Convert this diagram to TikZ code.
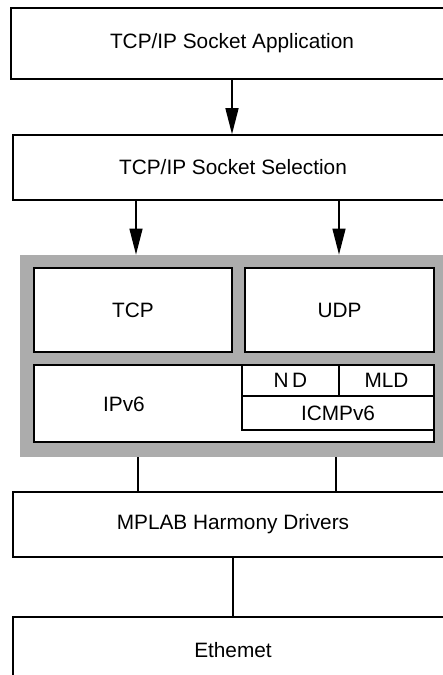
\documentclass[tikz,border=0pt]{standalone}
\usepackage{fontspec}
\setmainfont{Liberation Sans}
\usetikzlibrary{arrows.meta}
\definecolor{stackgray}{RGB}{172,172,172}

\begin{document}
\begin{tikzpicture}[x=0.5pt, y=-0.5pt, font=\fontsize{10.4}{12}\selectfont,
    layer/.style={draw, line width=0.8pt, fill=white, rectangle, inner sep=0pt},
    cell/.style={draw, line width=0.7pt, fill=white, rectangle, inner sep=0pt},
    arr/.style={-{Triangle[length=13pt, width=6.5pt]}, line width=0.7pt},
    link/.style={line width=0.7pt}]
  \clip (0,0) rectangle (443,675);
  % layers, top to bottom
  \node[layer, minimum width=221pt, minimum height=35.5pt] (app) at (232,43.5) {TCP/IP Socket Application};
  \node[layer, minimum width=220pt, minimum height=32.5pt] (sel) at (233,167.5) {TCP/IP Socket Selection};
  % grey block holding the transport and network layers
  \node[rectangle, fill=stackgray, minimum width=220pt, minimum height=101pt, inner sep=0pt] (stack) at (240,356) {};
  \node[cell, minimum width=99pt, minimum height=42pt] (tcp) at (133,310) {TCP};
  \node[cell, minimum width=94.5pt, minimum height=42pt] (udp) at (339.5,310) {UDP};
  \node[cell, minimum width=200pt, minimum height=38.5pt] (ip) at (234,403.5) {};
  \node (iptext) at (124,404) {IPv6};
  \node[cell, minimum width=48.5pt, minimum height=15.5pt] (nd) at (290.5,380.5) {N\,D};
  \node[cell, minimum width=47.5pt, minimum height=15.5pt] (mld) at (386.5,380.5) {MLD};
  \node[cell, minimum width=96pt, minimum height=17pt] (icmp) at (338,413) {ICMPv6};
  \node[layer, minimum width=220pt, minimum height=32.5pt] (drv) at (233,524.5) {MPLAB Harmony Drivers};
  \node[layer, minimum width=220pt, minimum height=33pt] (eth) at (233,650) {Ethemet};
  % arrows
  \draw[arr] (app.south) -- (app.south |- sel.north);
  \draw[arr] (136,0 |- sel.south) -- (136,0 |- stack.north);
  \draw[arr] (339,0 |- sel.south) -- (339,0 |- stack.north);
  % plain links
  \draw[link] (138,0 |- stack.south) -- (138,0 |- drv.north);
  \draw[link] (336,0 |- stack.south) -- (336,0 |- drv.north);
  \draw[link] (drv.south) -- (drv.south |- eth.north);
\end{tikzpicture}
\end{document}
